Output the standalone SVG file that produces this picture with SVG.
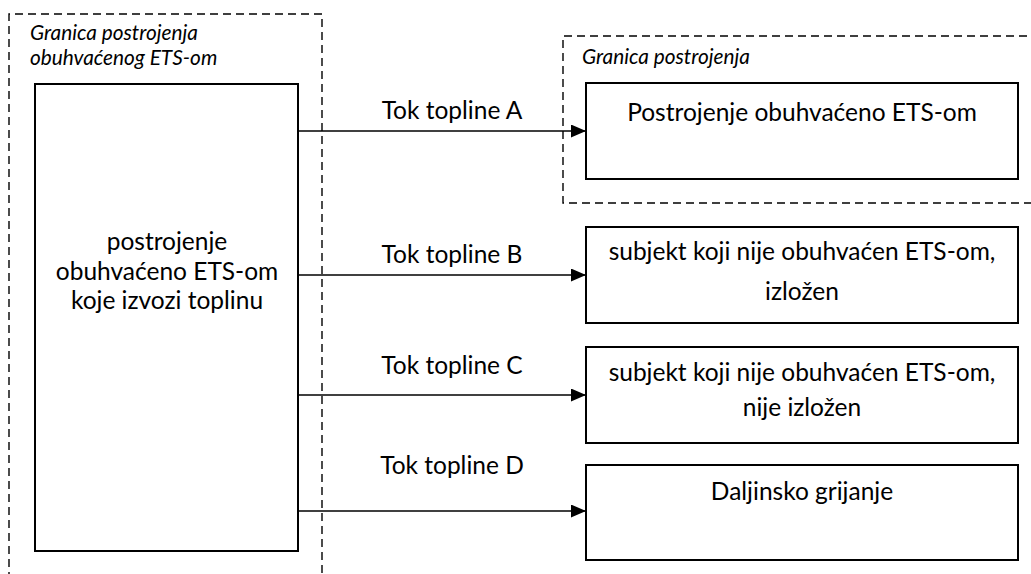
<svg xmlns="http://www.w3.org/2000/svg" width="1031" height="574" viewBox="0 0 1031 574">
<defs>
<style>
.t{font-family:Lato,"Open Sans","Liberation Sans",sans-serif;font-size:24.5px;fill:#000}
.i{font-family:Lato,"Open Sans","Liberation Sans",sans-serif;font-size:20.8px;font-style:italic;fill:#000}
.box{fill:#fff;stroke:#000;stroke-width:2}
.dash{fill:none;stroke:#000;stroke-width:1.4;stroke-dasharray:8 5}
.con{stroke:#000;stroke-width:1.4;fill:none;marker-end:url(#ah)}
</style>
<marker id="ah" markerWidth="15" markerHeight="13" refX="15" refY="6.5" orient="auto" markerUnits="userSpaceOnUse">
<path d="M0,0 L15,6.5 L0,13 Z" fill="#000"/>
</marker>
</defs>
<rect width="1031" height="574" fill="#fff"/>
<g id="boundary-left">
<path class="dash" d="M9,580 L9,14 L322,14 L322,580"/>
<text class="i" x="30" y="40">Granica postrojenja</text>
<text class="i" x="30" y="65">obuhvaćenog ETS-om</text>
</g>
<g id="boundary-right">
<path class="dash" d="M1040,36 L563,36 L563,203 L1040,203"/>
<text class="i" x="582" y="64">Granica postrojenja</text>
</g>
<g id="node-source">
<rect class="box" x="35" y="84" width="263" height="467"/>
<text class="t" text-anchor="middle" x="167" y="250">postrojenje</text>
<text class="t" text-anchor="middle" x="167" y="280">obuhvaćeno ETS-om</text>
<text class="t" text-anchor="middle" x="167" y="309">koje izvozi toplinu</text>
</g>
<g id="node-a">
<rect class="box" x="586" y="83" width="432" height="96"/>
<text class="t" text-anchor="middle" x="802" y="121">Postrojenje obuhvaćeno ETS-om</text>
</g>
<g id="node-b">
<rect class="box" x="586" y="227" width="432" height="96"/>
<text class="t" text-anchor="middle" x="802" y="260">subjekt koji nije obuhvaćen ETS-om,</text>
<text class="t" text-anchor="middle" x="802" y="300">izložen</text>
</g>
<g id="node-c">
<rect class="box" x="586" y="347" width="432" height="96"/>
<text class="t" text-anchor="middle" x="802" y="381">subjekt koji nije obuhvaćen ETS-om,</text>
<text class="t" text-anchor="middle" x="802" y="416">nije izložen</text>
</g>
<g id="node-d">
<rect class="box" x="586" y="465" width="432" height="95"/>
<text class="t" text-anchor="middle" x="802" y="500">Daljinsko grijanje</text>
</g>
<g id="connectors">
<line class="con" x1="298" y1="131" x2="586" y2="131"/>
<line class="con" x1="298" y1="275" x2="586" y2="275"/>
<line class="con" x1="298" y1="395" x2="586" y2="395"/>
<line class="con" x1="298" y1="511" x2="586" y2="511"/>
<text class="t" text-anchor="middle" x="452" y="119">Tok topline A</text>
<text class="t" text-anchor="middle" x="452" y="263">Tok topline B</text>
<text class="t" text-anchor="middle" x="452" y="374">Tok topline C</text>
<text class="t" text-anchor="middle" x="452" y="474">Tok topline D</text>
</g>
</svg>
